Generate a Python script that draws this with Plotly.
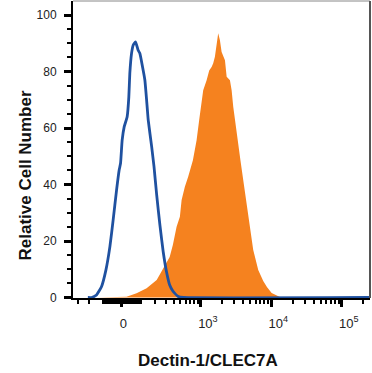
import numpy as np
import plotly.graph_objects as go

# ---- data (fluorescence intensity vs. relative cell number) ----
isotype_x = [-206, -177, -141, -109, -83, -61, -44, -26.5, -13.4, -6.5, 1.5, 11.5, 26.5, 35, 40, 49,
             57.5, 70.5, 85, 95, 111, 125.5, 137, 148, 173, 191, 213, 242, 274, 310, 347, 388, 467,
             559, 251000]
isotype_y = [0, 0, 0.9, 3.8, 9.7, 18.0, 27.4, 38.0, 45.1, 47.5, 55.7, 60.4, 64.0, 71.0, 79.3, 86.4,
             89.3, 90.5, 87.5, 86.4, 81.6, 77.0, 69.9, 62.8, 53.3, 46.3, 36.3, 25.6, 16.2, 9.0, 4.4,
             2.3, 0.35, 0, 0]

stained_x = [-139, -61, 23.5, 76, 137, 213, 274, 310, 347, 388, 442, 495, 525, 586, 655, 767, 867,
             945, 1023, 1079, 1207, 1315, 1423, 1499, 1585, 1675, 1766, 1868, 1975, 2203, 2329, 2593,
             2740, 2888, 3052, 3226, 3399, 3653, 4003, 4477, 4986, 5551, 6535, 7693, 8682, 10122,
             13274, 15620]
stained_y = [0, 0.2, 0.3, 1.5, 3.3, 6.2, 10.4, 12.1, 14.3, 18.6, 25.0, 28.6, 34.5, 39.2, 42.7, 48.6,
             55.7, 62.8, 68.7, 73.4, 76.9, 80.4, 81.6, 82.9, 85.2, 89.9, 93.5, 91.1, 86.9, 84.0, 78.1,
             76.9, 73.4, 67.5, 62.8, 58.1, 53.3, 48.6, 41.6, 32.7, 23.9, 16.8, 9.7, 5.8, 3.7, 1.6,
             0.2, 0]

major_ticks = [0, 1e3, 1e4, 1e5]
major_labels = ["0\u00a0\u00a0\u00a0", "10<sup>3</sup>", "10<sup>4</sup>", "10<sup>5</sup>"]
minor_ticks = ([-300, -200, -100]
               + [-10 * k for k in range(1, 10)]
               + [10 * k for k in range(1, 10)]
               + [100 * k for k in range(1, 10)]
               + [1000 * k for k in range(2, 10)]
               + [10000 * k for k in range(2, 10)]
               + [200000])
x_limits = [-360, 251000]
y_ticks = [0, 20, 40, 60, 80, 100]
y_limits = [-0.18, 104.96]

# ---- biexponential (arcsinh) display scale ----
COF = 152.4


def disp(v):
    return np.arcsinh(np.asarray(v, dtype=float) / COF) / np.log(10)


FONT = "Liberation Sans, Arial, Helvetica, sans-serif"
ORANGE = "#F5821F"
BLUE = "#1F51A0"

fig = go.Figure()
fig.add_trace(go.Scatter(x=disp(stained_x), y=stained_y, mode="lines", fill="tozeroy",
                         line=dict(width=0, color=ORANGE), fillcolor=ORANGE,
                         hoverinfo="skip", showlegend=False))
fig.add_trace(go.Scatter(x=disp(isotype_x), y=isotype_y, mode="lines",
                         line=dict(width=2.8, color=BLUE, shape="spline", smoothing=0.4),
                         hoverinfo="skip", showlegend=False))

fig.update_layout(
    width=372, height=373,
    margin=dict(l=73, r=2, t=1, b=75, autoexpand=False),
    paper_bgcolor="white", plot_bgcolor="white",
    font=dict(family=FONT, size=12, color="#222"),
    xaxis=dict(range=list(disp(x_limits)), showgrid=False, zeroline=False, automargin=False,
               showline=True, linecolor="black", linewidth=2, layer="below traces",
               tickmode="array", tickvals=list(disp(major_ticks)), ticktext=major_labels,
               ticks="outside", ticklen=7, tickwidth=3, tickcolor="black",
               ticklabelshift=7, ticklabelstandoff=5,
               tickfont=dict(family=FONT, size=13, color="#222"),
               minor=dict(tickmode="array", tickvals=list(disp(minor_ticks)), ticks="outside",
                          ticklen=4, tickwidth=1.5, tickcolor="black", showgrid=False)),
    yaxis=dict(range=y_limits, showgrid=False, zeroline=False, automargin=False,
               showline=True, linecolor="black", linewidth=2,
               tickmode="array", tickvals=y_ticks,
               ticks="outside", ticklen=7, tickwidth=3, tickcolor="black",
               ticklabelstandoff=5,
               tickfont=dict(family=FONT, size=12, color="#222"),
               minor=dict(dtick=5, ticks="outside", ticklen=4, tickwidth=1.5,
                          tickcolor="black", showgrid=False)),
    shapes=[
        dict(type="line", xref="paper", yref="paper", x0=0, x1=1, y0=1, y1=1,
             line=dict(color="#888", width=1)),
        dict(type="line", xref="paper", yref="paper", x0=1, x1=1, y0=0, y1=1,
             line=dict(color="#555", width=2)),
    ],
    annotations=[
        dict(text="<b>Dectin-1/CLEC7A</b>", xref="paper", yref="paper",
             x=0.4545, y=-0.212, xanchor="center", yanchor="middle", showarrow=False,
             font=dict(family=FONT, size=17, color="#111")),
        dict(text="<b>Relative Cell Number</b>", xref="paper", yref="paper",
             x=-0.1616, y=0.4125, xanchor="center", yanchor="middle", showarrow=False,
             textangle=-90, font=dict(family=FONT, size=17, color="#111")),
    ],
)

fig.write_html("out.html", config={"displayModeBar": False},
               post_script="document.body.style.margin='0';document.body.style.overflow='hidden';")
